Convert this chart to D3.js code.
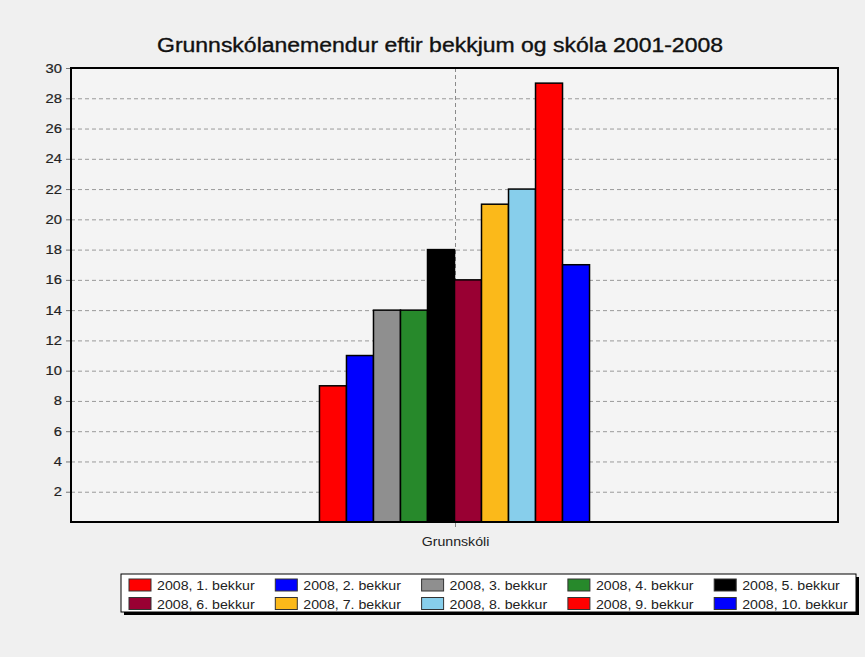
<!doctype html>
<html>
  <head>
    <meta charset="utf-8">
    <script src="https://cdn.jsdelivr.net/npm/d3@7"></script>
    <style>
      body { margin: 0; background: #f0f0f0; }
      svg { display: block; font-family: "Liberation Sans", Arial, sans-serif; }
    </style>
  </head>
  <body>
    <svg id="chart"></svg>
    <script>
      // data
      var categories = ["Grunnskóli"];
      var seriesNames = ["2008, 1. bekkur", "2008, 2. bekkur", "2008, 3. bekkur", "2008, 4. bekkur", "2008, 5. bekkur",
                         "2008, 6. bekkur", "2008, 7. bekkur", "2008, 8. bekkur", "2008, 9. bekkur", "2008, 10. bekkur"];
      var seriesValues = [9, 11, 14, 14, 18, 16, 21, 22, 29, 17];
      var seriesColors = ["#ff0000", "#0000ff", "#8f8f8f", "#27892b", "#000000",
                          "#990033", "#fbb91a", "#87ceeb", "#ff0000", "#0000ff"];
      var yTicks = [2, 4, 6, 8, 10, 12, 14, 16, 18, 20, 22, 24, 26, 28, 30];

      var width = 865, height = 657;
      var plot = { left: 71, right: 838, top: 68, bottom: 522 };
      var fontFam = "'Liberation Sans', Arial, sans-serif";
      var stretchK = 1.18; // the picture's text is a little wide

      // widen text horizontally, the way it looks in the picture
      function stretch(sel, k) {
        sel.each(function() {
          var len = this.getComputedTextLength();
          d3.select(this).attr("textLength", len * k).attr("lengthAdjust", "spacingAndGlyphs");
        });
      }

      var svg = d3.select("#chart").attr("width", width).attr("height", height);

      svg.append("rect").attr("width", width).attr("height", height).attr("fill", "#f0f0f0");

      // title
      svg.append("text")
        .attr("x", 440).attr("y", 52)
        .attr("text-anchor", "middle")
        .attr("font-size", "19.5px")
        .attr("textLength", 566).attr("lengthAdjust", "spacingAndGlyphs")
        .attr("fill", "#111").attr("stroke", "#111").attr("stroke-width", 0.35)
        .text("Grunnskólanemendur eftir bekkjum og skóla 2001-2008");

      var y = d3.scaleLinear().domain([0, 30]).range([plot.bottom, plot.top]);
      var x0 = d3.scaleBand().domain(categories).range([plot.left, plot.right]).paddingInner(0).paddingOuter(0.92);
      var x1 = d3.scaleBand().domain(seriesNames).range([0, x0.bandwidth()]).padding(0);

      // plot background
      svg.append("rect")
        .attr("x", plot.left).attr("y", plot.top)
        .attr("width", plot.right - plot.left).attr("height", plot.bottom - plot.top)
        .attr("fill", "#f4f4f4");

      // horizontal grid
      svg.append("g").selectAll("line").data(yTicks).enter().append("line")
        .attr("x1", plot.left).attr("x2", plot.right)
        .attr("y1", d => y(d) + 0.5).attr("y2", d => y(d) + 0.5)
        .attr("stroke", "#9a9a9a").attr("stroke-dasharray", "4,3");

      // vertical grid at category
      var cx = Math.round(x0(categories[0]) + x0.bandwidth() / 2) + 0.5;
      svg.append("line")
        .attr("x1", cx).attr("x2", cx)
        .attr("y1", plot.top).attr("y2", plot.bottom + 5)
        .attr("stroke", "#8a8a8a").attr("stroke-dasharray", "4,3");

      // y axis
      var yAxis = d3.axisLeft(y).tickValues(yTicks).tickSize(5).tickPadding(4);
      var gy = svg.append("g").attr("transform", "translate(" + plot.left + ",0)").call(yAxis);
      gy.select(".domain").remove();
      gy.selectAll(".tick line").attr("stroke", "#777");
      gy.selectAll("text").attr("font-size", "12.5px").attr("fill", "#222")
        .attr("stroke", "#222").attr("stroke-width", 0.2)
        .attr("font-family", fontFam)
        .call(stretch, stretchK);

      // bars
      svg.append("g").selectAll("rect").data(seriesValues).enter().append("rect")
        .attr("x", (d, i) => x0(categories[0]) + x1(seriesNames[i]))
        .attr("y", d => y(d))
        .attr("width", x1.bandwidth())
        .attr("height", d => plot.bottom - y(d))
        .attr("fill", (d, i) => seriesColors[i])
        .attr("stroke", "#000").attr("stroke-width", 1.5);

      // plot frame
      svg.append("rect")
        .attr("x", plot.left).attr("y", plot.top)
        .attr("width", plot.right - plot.left).attr("height", plot.bottom - plot.top)
        .attr("fill", "none").attr("stroke", "#000").attr("stroke-width", 2);

      // category label
      svg.append("text")
        .attr("x", cx).attr("y", 546)
        .attr("text-anchor", "middle").attr("font-size", "12px").attr("fill", "#222")
        .text(categories[0])
        .call(stretch, stretchK);

      // legend
      var lg = { x: 121, y: 574, w: 735, h: 38 };
      svg.append("rect").attr("x", lg.x + 3).attr("y", lg.y + 3).attr("width", lg.w).attr("height", lg.h).attr("fill", "#000");
      svg.append("rect").attr("x", lg.x).attr("y", lg.y).attr("width", lg.w).attr("height", lg.h)
        .attr("fill", "#fff").attr("stroke", "#000").attr("stroke-width", 1);

      var items = svg.append("g").selectAll("g").data(seriesNames).enter().append("g")
        .attr("transform", (d, i) => "translate(" + (129 + (i % 5) * 146.3) + "," + (579 + Math.floor(i / 5) * 18.5) + ")");
      items.append("rect").attr("width", 22).attr("height", 12)
        .attr("fill", (d, i) => seriesColors[i]).attr("stroke", "#333").attr("stroke-width", 1);
      items.append("text").attr("x", 28).attr("y", 11)
        .attr("font-size", "12px").attr("fill", "#222").text(d => d)
        .call(stretch, stretchK);
    </script>
  </body>
</html>
